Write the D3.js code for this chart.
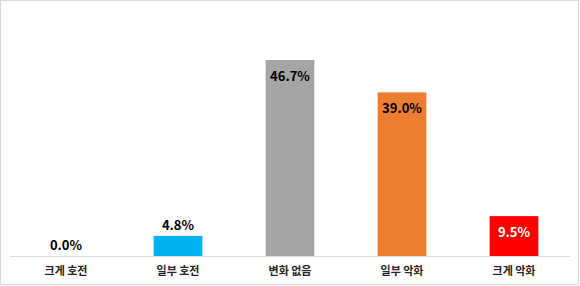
<!DOCTYPE html>
<html><head><meta charset="utf-8">
<script src="https://cdn.jsdelivr.net/npm/d3@7"></script>
<style>html,body{margin:0;padding:0;background:#fff;}svg{display:block;}</style>
</head><body>
<script>
const categories = ["크게 호전", "일부 호전", "변화 없음", "일부 악화", "크게 악화"];
const values = [0.0, 4.8, 46.7, 39.0, 9.5];
const colors = ["#00b0f0", "#00b0f0", "#a5a5a5", "#ed7d31", "#ff0000"];
const labelInside = [false, false, true, true, true];
const labelColors = ["#000", "#000", "#000", "#000", "#fff"];

const W = 580, H = 286;
const svg = d3.select("body").append("svg").attr("width", W).attr("height", H);
svg.append("rect").attr("x", 0.5).attr("y", 0.5).attr("width", W - 2).attr("height", H - 2)
  .attr("fill", "#fff").attr("stroke", "#d9d9d9").attr("stroke-width", 1);

const x = d3.scaleBand().domain(categories).range([10, 570]).paddingInner(0.565).paddingOuter(0.2825);
const y = d3.scaleLinear().domain([0, 50]).range([256, 46.2]);

const font = "'Noto Sans CJK KR', 'Malgun Gothic', sans-serif";

svg.selectAll("rect.bar").data(values).enter().append("rect")
  .attr("class", "bar")
  .attr("x", (d, i) => x(categories[i]))
  .attr("width", x.bandwidth())
  .attr("y", d => y(d))
  .attr("height", d => y(0) - y(d))
  .attr("fill", (d, i) => colors[i]);

const axis = svg.append("g").attr("transform", `translate(0,${y(0)})`)
  .call(d3.axisBottom(x).tickSize(0).tickPadding(11.5));
axis.select(".domain").attr("stroke", "#d9d9d9").attr("d", "M10,0.5H570");
axis.selectAll("text").attr("font-family", font).attr("font-size", 11).attr("font-weight", 700).attr("fill", "#262626");

svg.selectAll("text.val").data(values).enter().append("text")
  .attr("class", "val")
  .attr("x", (d, i) => x(categories[i]) + x.bandwidth() / 2)
  .attr("y", (d, i) => labelInside[i] ? y(d) + 21 : y(d) - 6)
  .attr("text-anchor", "middle")
  .attr("font-family", font).attr("font-size", 13).attr("font-weight", 700)
  .attr("fill", (d, i) => labelColors[i])
  .text(d => d.toFixed(1) + "%");
</script>
</body></html>
